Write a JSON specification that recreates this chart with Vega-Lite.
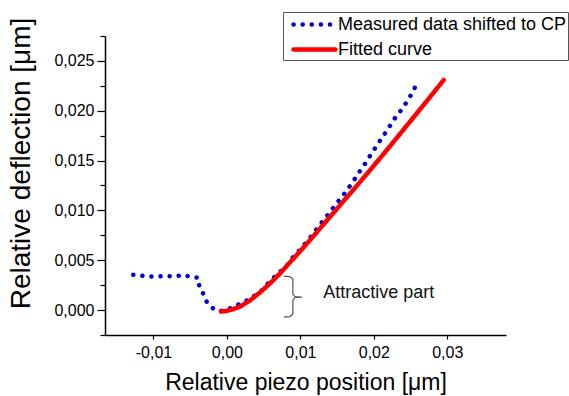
{
  "$schema": "https://vega.github.io/schema/vega-lite/v6.json",
  "width": 401,
  "height": 299,
  "autosize": {"type": "none"},
  "padding": {"left": 105, "top": 36, "right": 63, "bottom": 61},
  "background": "white",
  "config": {
    "view": {"stroke": null},
    "font": "Liberation Sans",
    "axis": {"grid": false, "domainColor": "#000", "tickColor": "#000", "labelColor": "#000", "titleColor": "#000", "labelFont": "Liberation Sans", "titleFont": "Liberation Sans", "titleFontWeight": "normal", "domainWidth": 1.5, "tickWidth": 1.2}
  },
  "resolve": {"scale": {"y": "shared", "x": "shared"}, "axis": {"y": "independent"}},
  "datasets": {
    "curves": [
      {"series": "Measured data shifted to CP", "x": -0.01275, "y": 0.00354},
      {"series": "Measured data shifted to CP", "x": -0.01161, "y": 0.00344},
      {"series": "Measured data shifted to CP", "x": -0.01048, "y": 0.00338},
      {"series": "Measured data shifted to CP", "x": -0.00935, "y": 0.00338},
      {"series": "Measured data shifted to CP", "x": -0.0083, "y": 0.00341},
      {"series": "Measured data shifted to CP", "x": -0.00717, "y": 0.00338},
      {"series": "Measured data shifted to CP", "x": -0.00603, "y": 0.00351},
      {"series": "Measured data shifted to CP", "x": -0.0049, "y": 0.00334},
      {"series": "Measured data shifted to CP", "x": -0.0039, "y": 0.00324},
      {"series": "Measured data shifted to CP", "x": -0.00377, "y": 0.00241},
      {"series": "Measured data shifted to CP", "x": -0.00317, "y": 0.00158},
      {"series": "Measured data shifted to CP", "x": -0.00272, "y": 0.00077},
      {"series": "Measured data shifted to CP", "x": -0.0019, "y": 0.00017},
      {"series": "Measured data shifted to CP", "x": -0.00088, "y": -0.0001},
      {"series": "Measured data shifted to CP", "x": 0.00018, "y": 0.0001},
      {"series": "Measured data shifted to CP", "x": 0.0014, "y": 0.0005},
      {"series": "Measured data shifted to CP", "x": 0.00245, "y": 0.00083},
      {"series": "Measured data shifted to CP", "x": 0.00358, "y": 0.00134},
      {"series": "Measured data shifted to CP", "x": 0.00472, "y": 0.00196},
      {"series": "Measured data shifted to CP", "x": 0.00558, "y": 0.00266},
      {"series": "Measured data shifted to CP", "x": 0.00646, "y": 0.00331},
      {"series": "Measured data shifted to CP", "x": 0.00721, "y": 0.00382},
      {"series": "Measured data shifted to CP", "x": 0.00812, "y": 0.00442},
      {"series": "Measured data shifted to CP", "x": 0.00884, "y": 0.00517},
      {"series": "Measured data shifted to CP", "x": 0.0097, "y": 0.00585},
      {"series": "Measured data shifted to CP", "x": 0.01061, "y": 0.00663},
      {"series": "Measured data shifted to CP", "x": 0.01152, "y": 0.00743},
      {"series": "Measured data shifted to CP", "x": 0.01229, "y": 0.0082},
      {"series": "Measured data shifted to CP", "x": 0.0131, "y": 0.00897},
      {"series": "Measured data shifted to CP", "x": 0.01401, "y": 0.00981},
      {"series": "Measured data shifted to CP", "x": 0.01483, "y": 0.01061},
      {"series": "Measured data shifted to CP", "x": 0.01569, "y": 0.01138},
      {"series": "Measured data shifted to CP", "x": 0.0165, "y": 0.01218},
      {"series": "Measured data shifted to CP", "x": 0.01728, "y": 0.013},
      {"series": "Measured data shifted to CP", "x": 0.01796, "y": 0.01379},
      {"series": "Measured data shifted to CP", "x": 0.01864, "y": 0.01449},
      {"series": "Measured data shifted to CP", "x": 0.01936, "y": 0.01533},
      {"series": "Measured data shifted to CP", "x": 0.0201, "y": 0.01616},
      {"series": "Measured data shifted to CP", "x": 0.02082, "y": 0.01697},
      {"series": "Measured data shifted to CP", "x": 0.02154, "y": 0.01774},
      {"series": "Measured data shifted to CP", "x": 0.02227, "y": 0.01857},
      {"series": "Measured data shifted to CP", "x": 0.02299, "y": 0.01938},
      {"series": "Measured data shifted to CP", "x": 0.02377, "y": 0.02011},
      {"series": "Measured data shifted to CP", "x": 0.02445, "y": 0.02085},
      {"series": "Measured data shifted to CP", "x": 0.02513, "y": 0.02166},
      {"series": "Measured data shifted to CP", "x": 0.02571, "y": 0.02249},
      {"series": "Fitted curve", "x": -0.00082, "y": -0.00015},
      {"series": "Fitted curve", "x": -0.00014, "y": -0.0001},
      {"series": "Fitted curve", "x": 0.00068, "y": 0.00005},
      {"series": "Fitted curve", "x": 0.00177, "y": 0.00035},
      {"series": "Fitted curve", "x": 0.00313, "y": 0.00095},
      {"series": "Fitted curve", "x": 0.00449, "y": 0.00176},
      {"series": "Fitted curve", "x": 0.00585, "y": 0.00266},
      {"series": "Fitted curve", "x": 0.00721, "y": 0.00366},
      {"series": "Fitted curve", "x": 0.00857, "y": 0.00477},
      {"series": "Fitted curve", "x": 0.00993, "y": 0.00587},
      {"series": "Fitted curve", "x": 0.01197, "y": 0.00758},
      {"series": "Fitted curve", "x": 0.01401, "y": 0.00934},
      {"series": "Fitted curve", "x": 0.01673, "y": 0.01165},
      {"series": "Fitted curve", "x": 0.01946, "y": 0.01401},
      {"series": "Fitted curve", "x": 0.02218, "y": 0.01642},
      {"series": "Fitted curve", "x": 0.0249, "y": 0.01888},
      {"series": "Fitted curve", "x": 0.02762, "y": 0.02134},
      {"series": "Fitted curve", "x": 0.02952, "y": 0.02309}
    ],
    "brace": [
      {"i": 1, "x": 0.00776, "y": 0.00341},
      {"i": 2, "x": 0.00857, "y": 0.00336},
      {"i": 3, "x": 0.00898, "y": 0.00311},
      {"i": 4, "x": 0.00898, "y": 0.00161},
      {"i": 5, "x": 0.00925, "y": 0.00136},
      {"i": 6, "x": 0.0102, "y": 0.00131},
      {"i": 7, "x": 0.00925, "y": 0.00126},
      {"i": 8, "x": 0.00898, "y": 0.001},
      {"i": 9, "x": 0.00898, "y": -0.0004},
      {"i": 10, "x": 0.00857, "y": -0.00065},
      {"i": 11, "x": 0.00776, "y": -0.0007}
    ],
    "notes": [
      {"x": 0.0131, "y": 0.00174, "label": "Attractive part"}
    ]
  },
  "layer": [
    {
      "data": {"name": "curves"},
      "mark": {"type": "line", "strokeWidth": 4.5, "strokeCap": "round"},
      "encoding": {
        "x": {
          "field": "x", "type": "quantitative",
          "scale": {"domain": [-0.0166, 0.038], "nice": false, "zero": false},
          "axis": {
            "values": [-0.01, 0, 0.01, 0.02, 0.03],
            "labelExpr": "replace(replace(format(datum.value, '.2f'), '.', ','), '\u2212', '-')",
            "tickSize": 4,
            "labelFontSize": 16,
            "labelPadding": 5,
            "title": "Relative piezo position [\u03bcm]",
            "titleFontSize": 23,
            "titleBaseline": "alphabetic",
            "titleY": 54
          }
        },
        "y": {
          "field": "y", "type": "quantitative",
          "scale": {"domain": [-0.0025, 0.0275], "nice": false, "zero": false},
          "axis": {
            "orient": "left",
            "values": [0, 0.005, 0.01, 0.015, 0.02, 0.025],
            "labelExpr": "replace(format(datum.value, '.3f'), '.', ',')",
            "labelOverlap": false,
            "tickSize": 8,
            "labelFontSize": 16,
            "labelPadding": 3,
            "title": "Relative deflection [\u03bcm]",
            "titleFontSize": 28,
            "titleBaseline": "middle",
            "titleX": -84,
            "titleY": 127
          }
        },
        "color": {
          "field": "series", "type": "nominal",
          "scale": {"domain": ["Measured data shifted to CP", "Fitted curve"], "range": ["#0000d0", "#ff0000"]},
          "legend": {
            "title": null, "orient": "none", "legendX": 178, "legendY": -24,
            "symbolType": "M-2.33,0H2.33", "symbolSize": 324, "symbolStrokeWidth": 4.5, "symbolOffset": 19,
            "labelFontSize": 18, "labelFont": "Liberation Sans", "labelColor": "#000", "labelLimit": 320,
            "strokeColor": "#555", "fillColor": "white", "padding": 1, "rowPadding": 4, "labelOffset": 12,
            "encoding": {"symbols": {"strokeCap": {"value": "round"}}}
          }
        },
        "strokeDash": {
          "field": "series", "type": "nominal",
          "scale": {"domain": ["Measured data shifted to CP", "Fitted curve"], "range": [[0.1, 9], [1, 0]]},
          "legend": {
            "title": null, "orient": "none", "legendX": 178, "legendY": -24,
            "symbolType": "M-2.33,0H2.33", "symbolSize": 324, "symbolStrokeWidth": 4.5, "symbolOffset": 19,
            "labelFontSize": 18, "labelFont": "Liberation Sans", "labelColor": "#000", "labelLimit": 320,
            "strokeColor": "#555", "fillColor": "white", "padding": 1, "rowPadding": 4, "labelOffset": 12,
            "encoding": {"symbols": {"strokeCap": {"value": "round"}}}
          }
        }
      }
    },
    {
      "data": {"name": "brace"},
      "mark": {"type": "line", "color": "#555", "strokeWidth": 1.2},
      "encoding": {
        "x": {"field": "x", "type": "quantitative"},
        "y": {
          "field": "y", "type": "quantitative",
          "axis": {"orient": "left", "values": [-0.0025, 0.0025, 0.0075, 0.0125, 0.0175, 0.0225, 0.0275], "labels": false, "domain": false, "tickSize": 5, "title": null}
        },
        "order": {"field": "i", "type": "quantitative"}
      }
    },
    {
      "data": {"name": "notes"},
      "mark": {"type": "text", "align": "left", "baseline": "middle", "fontSize": 18, "font": "Liberation Sans", "color": "#111"},
      "encoding": {
        "x": {"field": "x", "type": "quantitative"},
        "y": {"field": "y", "type": "quantitative", "axis": null},
        "text": {"field": "label"}
      }
    }
  ]
}
